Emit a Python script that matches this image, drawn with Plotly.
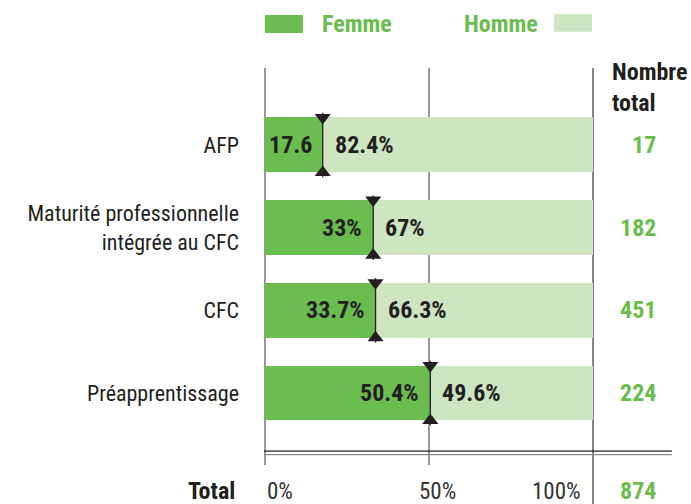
import plotly.graph_objects as go

categories = ["AFP", "Maturité professionnelle<br>intégrée au CFC", "CFC", "Préapprentissage"]
femme = [17.6, 33.0, 33.7, 50.4]
homme = [82.4, 67.0, 66.3, 49.6]
femme_labels = ["17.6", "33%", "33.7%", "50.4%"]
homme_labels = ["82.4%", "67%", "66.3%", "49.6%"]
totals = [17, 182, 451, 224]
grand_total = 874
tick_vals = [0, 50, 100]
tick_labels = ["0%", "50%", "100%"]

GREEN = "#6abd4f"
LIGHT = "#cde5c0"
TXT_GREEN = "#6abd4f"
DARK = "#231f20"
FONT = "Liberation Sans Narrow, Roboto Condensed, DejaVu Sans Condensed, Arial Narrow, sans-serif"

ypos = list(range(len(categories)))

fig = go.Figure()
fig.add_bar(y=ypos, x=femme, orientation="h", marker=dict(color=GREEN, line_width=0),
            width=0.665, name="Femme", hoverinfo="skip")
fig.add_bar(y=ypos, x=homme, orientation="h", marker=dict(color=LIGHT, line_width=0),
            width=0.665, name="Homme", hoverinfo="skip")

# vertical separator line at boundary
fig.add_scatter(x=femme, y=ypos, mode="markers", marker=dict(size=1, color=DARK, opacity=0),
                error_y=dict(type="constant", value=0.39, color=DARK, thickness=1.3, width=0),
                showlegend=False, hoverinfo="skip")
fig.add_scatter(x=femme, y=[v - 0.333 for v in ypos], mode="markers",
                marker=dict(symbol="triangle-down", size=14, color=DARK, line_width=0),
                showlegend=False, hoverinfo="skip")
fig.add_scatter(x=femme, y=[v + 0.333 for v in ypos], mode="markers",
                marker=dict(symbol="triangle-up", size=14, color=DARK, line_width=0),
                showlegend=False, hoverinfo="skip")

BOLD = dict(family=FONT, size=24, color=DARK, weight="bold")
GBOLD = dict(family=FONT, size=24, color=TXT_GREEN, weight="bold")

ann = []
for i, (f, fl, hl, t) in enumerate(zip(femme, femme_labels, homme_labels, totals)):
    ann.append(dict(x=f, y=i, xref="x", yref="y", text=fl, showarrow=False, xanchor="right",
                    xshift=-9, font=BOLD))
    ann.append(dict(x=f, y=i, xref="x", yref="y", text=hl, showarrow=False, xanchor="left",
                    xshift=10, font=BOLD))
    ann.append(dict(x=1.194, y=i, xref="paper", yref="y", text=str(t), showarrow=False,
                    xanchor="right", font=GBOLD))

anchors = ["left", "center", "right"]
shifts = [0, 8, -10]
for v, lab, a, s in zip(tick_vals, tick_labels, anchors, shifts):
    ann.append(dict(x=v, y=-0.066, xref="x", yref="paper", text=lab, showarrow=False,
                    xanchor=a, xshift=s, yanchor="middle",
                    font=dict(family=FONT, size=23, color="#333333")))
ann.append(dict(x=1.194, y=-0.066, xref="paper", yref="paper", text=str(grand_total), showarrow=False,
                xanchor="right", yanchor="middle", font=GBOLD))
ann.append(dict(x=-0.082, y=-0.066, xref="paper", yref="paper", text="Total", showarrow=False,
                xanchor="right", yanchor="middle", font=BOLD))
ann.append(dict(x=1.048, y=0.95, xref="paper", yref="paper", text="Nombre<br>total", showarrow=False,
                xanchor="left", yanchor="middle", align="left", font=BOLD))
# legend
ann.append(dict(x=0.170, y=1.111, xref="paper", yref="paper", text="Femme", showarrow=False,
                xanchor="left", yanchor="middle", font=GBOLD))
ann.append(dict(x=0.600, y=1.111, xref="paper", yref="paper", text="Homme", showarrow=False,
                xanchor="left", yanchor="middle", font=GBOLD))

shapes = [
    dict(type="rect", xref="paper", yref="paper", x0=0.003, x1=0.118, y0=1.088, y1=1.1335,
         fillcolor=GREEN, line_width=0),
    dict(type="rect", xref="paper", yref="paper", x0=0.879, x1=0.994, y0=1.091, y1=1.136,
         fillcolor=LIGHT, line_width=0),
    dict(type="line", xref="x", yref="paper", x0=0, x1=0, y0=0, y1=1, line=dict(color="#555555", width=1.2), layer="below"),
    dict(type="line", xref="x", yref="paper", x0=50, x1=50, y0=0, y1=1, line=dict(color="#555555", width=1.2), layer="below"),
    dict(type="line", xref="x", yref="paper", x0=100, x1=100, y0=-0.1, y1=1, line=dict(color="#333333", width=1.2), layer="below"),
    dict(type="line", xref="paper", yref="paper", x0=0, x1=1.236, y0=0.035, y1=0.035, line=dict(color="#222222", width=1.2)),
    dict(type="line", xref="paper", yref="paper", x0=0, x1=1.236, y0=0.026, y1=0.026, line=dict(color="#888888", width=1.2)),
]

fig.update_layout(
    barmode="stack", width=691, height=504, showlegend=False,
    margin=dict(l=264, r=97, t=68, b=39),
    paper_bgcolor="white", plot_bgcolor="white",
    xaxis=dict(range=[-0.3, 100.3], showgrid=False, zeroline=False, showticklabels=False, ticks=""),
    yaxis=dict(range=[3.871, -0.931], tickvals=ypos, ticktext=categories, showgrid=False, zeroline=False,
               ticks="", ticklabelstandoff=24, tickfont=dict(family=FONT, size=22, color=DARK)),
    annotations=ann, shapes=shapes, font=dict(family=FONT),
)
fig.write_html("out.html", config={"displayModeBar": False},
               post_script="document.body.style.margin='0';document.body.style.overflow='hidden';")
